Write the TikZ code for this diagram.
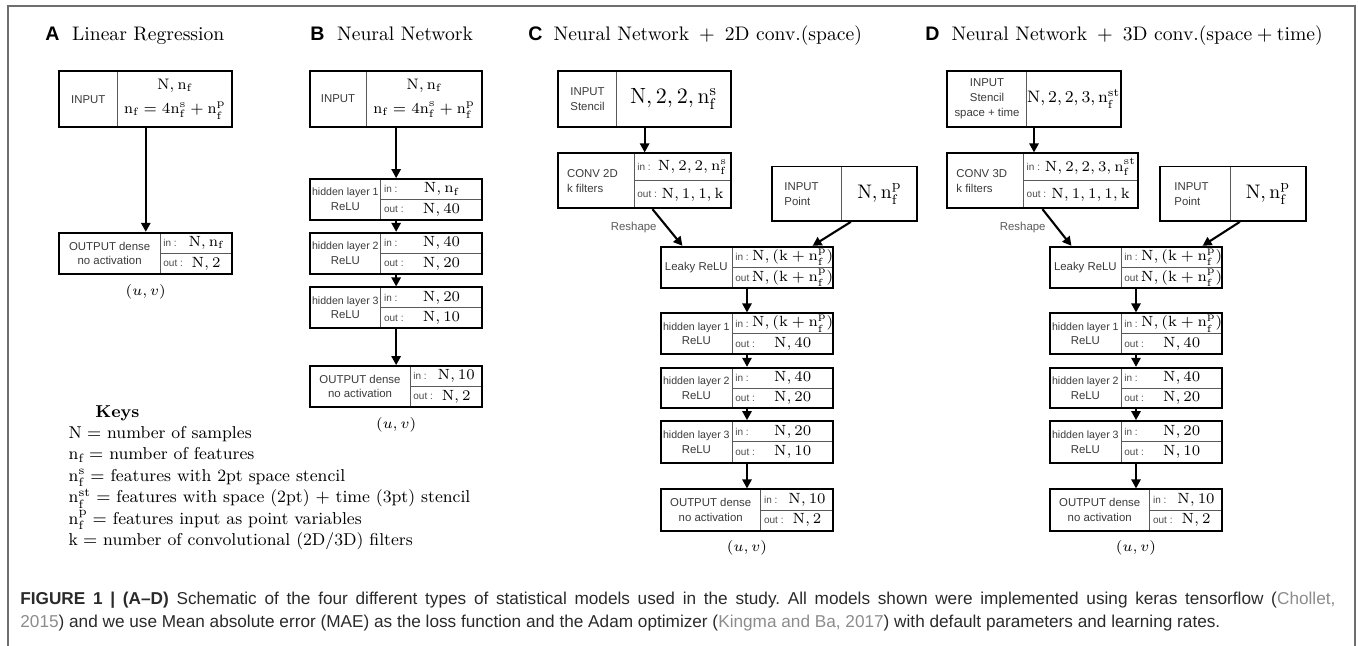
\documentclass[tikz,border=0pt]{standalone}
\usepackage{fix-cm}
\usepackage{fontspec}
\newfontfamily\arialf{Liberation Sans}
\usetikzlibrary{arrows.meta,calc}

\definecolor{labgray}{HTML}{3A3A3A}
\definecolor{iogray}{HTML}{4A4A4A}
\definecolor{rulegray}{HTML}{5A5A5A}
\definecolor{framegray}{HTML}{6E6E6E}
\definecolor{captext}{HTML}{2A2A2A}
\definecolor{citegray}{HTML}{8C8C8C}

% font switches
\newcommand\lblf{\arialf\fontsize{5.7}{7.4}\selectfont}
\newcommand\hlblf{\arialf\fontsize{5.3}{6.3}\selectfont}
\newcommand\iof{\arialf\fontsize{5}{6}\selectfont}
\newcommand\valf{\fontsize{7.4}{9}\selectfont}
\newcommand\bigvalf{\fontsize{9.8}{11}\selectfont}
\newcommand\hugevalf{\fontsize{11}{13}\selectfont}
\newcommand\midvalf{\fontsize{8.3}{10}\selectfont}
\newcommand\inpvalf{\fontsize{7.6}{10}\selectfont}
\newcommand\panelletter[1]{{\arialf\bfseries #1}}

% symbols
\newcommand\vN{\mathrm{N}}
\newcommand\vnf{\mathrm{n_f}}
\newcommand\vnfs{\mathrm{n^s_f}}
\newcommand\vnfp{\mathrm{n^p_f}}
\newcommand\vnfst{\mathrm{n^{st}_f}}

\tikzset{
  boxframe/.style={draw=black, line width=0.85pt, inner sep=0pt},
  divider/.style={draw=rulegray, line width=0.5pt},
  lbl/.style={font=\lblf, text=labgray, align=center, inner sep=0pt},
  iotag/.style={font=\iof, text=iogray, anchor=west, inner sep=0pt},
  val/.style={font=\valf, inner sep=0pt},
  arr/.style={-{Triangle[length=4.5pt,width=4.6pt]}, line width=1.05pt},
  ttl/.style={anchor=base west, inner sep=0pt, font=\fontsize{9.8}{12}\selectfont},
  keyline/.style={anchor=base west, inner sep=0pt, font=\fontsize{8.6}{10.5}\selectfont},
  uv/.style={inner sep=0pt, font=\fontsize{7.4}{9}\selectfont},
  note/.style={inner sep=0pt, font=\lblf, text=rulegray},
  capline/.style={anchor=base west, inner sep=0pt, text=captext, font=\arialf\fontsize{8.6}{10}\selectfont\frenchspacing},
}

% two-column input box: name, x1, y1, x2, y2, xdiv, label, value
\newcommand\inp[8]{%
  \draw[divider] (#6,#3) -- (#6,#5);
  \node[boxframe, minimum width={(#4-#2)*0.5pt}, minimum height={(#5-#3)*0.5pt}] (#1) at ({(#2+#4)/2},{(#3+#5)/2}) {};
  \node[lbl] (#1-l) at ({(#2+#6)/2},{(#3+#5)/2}) {#7};
  \node[inner sep=0pt, align=center] (#1-v) at ({(#6+#4)/2},{(#3+#5)/2}) {#8};
}

% layer box with in/out shapes: name, x1, y1, x2, y2, xdiv, label, in, out
\newcommand\lyr[9]{%
  \draw[divider] (#6,#3) -- (#6,#5);
  \draw[divider] (#6,{(#3+#5)/2}) -- (#4,{(#3+#5)/2});
  \node[boxframe, minimum width={(#4-#2)*0.5pt}, minimum height={(#5-#3)*0.5pt}] (#1) at ({(#2+#4)/2},{(#3+#5)/2}) {};
  \node[lbl] (#1-l) at ({(#2+#6)/2},{(#3+#5)/2}) {#7};
  \node[iotag] (#1-it) at ({#6+3},{(3*#3+#5)/4}) {in :};
  \node[iotag] (#1-ot) at ({#6+3},{(#3+3*#5)/4}) {out :};
  \node[val] (#1-iv) at ({(#6+20+#4)/2},{(3*#3+#5)/4}) {$#8$};
  \node[val] (#1-ov) at ({(#6+20+#4)/2},{(#3+3*#5)/4}) {$#9$};
}

\begin{document}
\begin{tikzpicture}[x=0.5pt,y=-0.5pt]
\useasboundingbox (0,0) rectangle (1358,646);
\draw[framegray, line width=0.75pt] (8,646) -- (8,6) -- (1355,6) -- (1355,646);

% ---------- A: linear regression ----------
\node[ttl] (tA) at (45,40.5) {\panelletter{A}\hspace{6.3pt}Linear Regression};
\inp{inA}{59.3}{71}{232.3}{127.3}{117.3}{INPUT}{\inpvalf $\vN,\vnf$\\ \inpvalf $\vnf=4\vnfs+\vnfp$}
\lyr{outA}{59.3}{232.7}{232.3}{274}{160}{OUTPUT dense\\no activation}{\vN,\vnf}{\vN,2}
\draw[arr] (inA.south) -- (outA.north);
\node[uv] (uvA) at (145.8,291.7) {$(u,v)$};

% ---------- B: dense network ----------
\node[ttl] (tB) at (310,40.5) {\panelletter{B}\hspace{6.3pt}Neural Network};
\inp{inB}{310}{71}{482.3}{126.7}{366}{INPUT}{\inpvalf $\vN,\vnf$\\ \inpvalf $\vnf=4\vnfs+\vnfp$}
\lyr{h1B}{310}{179}{482.3}{220}{380.7}{\hlblf hidden layer 1\\ReLU}{\vN,\vnf}{\vN,40}
\lyr{h2B}{310}{232.7}{482.3}{274}{380.7}{\hlblf hidden layer 2\\ReLU}{\vN,40}{\vN,20}
\lyr{h3B}{310}{287.3}{482.3}{328.3}{380.7}{\hlblf hidden layer 3\\ReLU}{\vN,20}{\vN,10}
\lyr{outB}{310}{366}{482.3}{406.7}{410}{OUTPUT dense\\no activation}{\vN,10}{\vN,2}
\draw[arr] (inB.south) -- (h1B.north);
\draw[arr] (h1B.south) -- (h2B.north);
\draw[arr] (h2B.south) -- (h3B.north);
\draw[arr] (h3B.south) -- (outB.north);
\node[uv] (uvB) at (396.2,425) {$(u,v)$};

% ---------- keys ----------
\node[keyline, font=\fontsize{8.6}{10.5}\selectfont\bfseries] (keyhead) at (95,417.5) {Keys};
\node[keyline] (key1) at (68.3,438) {$\vN=$ number of samples};
\node[keyline] (key2) at (68.3,459.5) {$\vnf=$ number of features};
\node[keyline] (key3) at (68.3,481) {$\vnfs=$ features with 2pt space stencil};
\node[keyline] (key4) at (68.3,502.5) {$\vnfst=$ features with space (2pt) $+$ time (3pt) stencil};
\node[keyline] (key5) at (68.3,524) {$\vnfp=$ features input as point variables};
\node[keyline] (key6) at (68.3,545.5) {$\mathrm{k}=$ number of convolutional (2D/3D) filters};

% ---------- C: network with 2D convolution ----------
\node[ttl] (tC) at (528,40.5) {\panelletter{C}\hspace{5.5pt}Neural Network\hspace{5pt}$+$\hspace{5pt}2D conv.(space)};
\inp{stC}{558.3}{71}{731}{126.7}{616}{}{\hugevalf $\vN,2,2,\vnfs$}
\node[lbl, anchor=west, align=left] (stC-t) at (570,98.8) {INPUT\\Stencil};
\lyr{cvC}{558.3}{153.3}{731}{208.3}{634}{}{\vN,2,2,\vnfs}{\vN,1,1,\mathrm{k}}
\node[lbl, anchor=west, align=left] (cvC-t) at (566.7,180.8) {CONV 2D\\k filters};
\inp{ptC}{771.7}{166.5}{917}{221}{841.7}{}{\bigvalf $\vN,\vnfp$}
\node[lbl, anchor=west, align=left] (ptC-t) at (784,193.8) {INPUT\\Point};
\lyr{lkC}{660.7}{246.7}{833.3}{288.3}{732}{Leaky ReLU}{\vN,(\mathrm{k}+\vnfp)}{\vN,(\mathrm{k}+\vnfp)}
\lyr{h1C}{660.7}{313.3}{833.3}{354.3}{732}{\hlblf hidden layer 1\\ReLU}{\vN,(\mathrm{k}+\vnfp)}{\vN,40}
\lyr{h2C}{660.7}{367.7}{833.3}{408.3}{732}{\hlblf hidden layer 2\\ReLU}{\vN,40}{\vN,20}
\lyr{h3C}{660.7}{421}{833.3}{462.7}{732}{\hlblf hidden layer 3\\ReLU}{\vN,20}{\vN,10}
\lyr{outC}{660.7}{489.3}{833.3}{530.7}{760.7}{OUTPUT dense\\no activation}{\vN,10}{\vN,2}
\draw[arr] (stC.south) -- (cvC.north);
\draw[arr] ($(cvC.south west)+(95,0)$) -- ($(lkC.north west)+(22.6,0)$);
\draw[arr] ($(ptC.south west)+(80,0)$) -- ($(lkC.north east)+(-21.6,0)$);
\node[note] (rsC) at (633.7,227.3) {Reshape};
\draw[arr] (lkC.south) -- (h1C.north);
\draw[arr] (h1C.south) -- (h2C.north);
\draw[arr] (h2C.south) -- (h3C.north);
\draw[arr] (h3C.south) -- (outC.north);
\node[uv] (uvC) at (747,547.3) {$(u,v)$};

% ---------- D: network with 3D convolution ----------
\node[ttl] (tD) at (925,40.5) {\panelletter{D}\hspace{6pt}Neural Network\hspace{5pt}$+$\hspace{5pt}3D conv.(space${}+{}$time)};
\inp{stD}{947.3}{71}{1120.7}{126.7}{1026.7}{INPUT\\Stencil\\space + time}{\midvalf $\vN,2,2,3,\vnfst$}
\lyr{cvD}{947.3}{153.3}{1137.7}{208.3}{1023.3}{}{\vN,2,2,3,\vnfst}{\vN,1,1,1,\mathrm{k}}
\node[lbl, anchor=west, align=left] (cvD-t) at (956,180.8) {CONV 3D\\k filters};
\inp{ptD}{1160}{166.5}{1305.7}{221}{1230}{}{\bigvalf $\vN,\vnfp$}
\node[lbl, anchor=west, align=left] (ptD-t) at (1174,193.8) {INPUT\\Point};
\lyr{lkD}{1049.7}{246.7}{1222.3}{288.3}{1121}{Leaky ReLU}{\vN,(\mathrm{k}+\vnfp)}{\vN,(\mathrm{k}+\vnfp)}
\lyr{h1D}{1049.7}{313.3}{1222.3}{354.3}{1121}{\hlblf hidden layer 1\\ReLU}{\vN,(\mathrm{k}+\vnfp)}{\vN,40}
\lyr{h2D}{1049.7}{367.7}{1222.3}{408.3}{1121}{\hlblf hidden layer 2\\ReLU}{\vN,40}{\vN,20}
\lyr{h3D}{1049.7}{421}{1222.3}{462.7}{1121}{\hlblf hidden layer 3\\ReLU}{\vN,20}{\vN,10}
\lyr{outD}{1049.7}{489.3}{1222.3}{530.7}{1149.7}{OUTPUT dense\\no activation}{\vN,10}{\vN,2}
\draw[arr] (stD.south) -- (stD.south |- cvD.north);
\draw[arr] ($(cvD.south west)+(96,0)$) -- ($(lkD.north west)+(22.6,0)$);
\draw[arr] ($(ptD.south west)+(80.7,0)$) -- ($(lkD.north east)+(-20.6,0)$);
\node[note] (rsD) at (1022.7,227.3) {Reshape};
\draw[arr] (lkD.south) -- (h1D.north);
\draw[arr] (h1D.south) -- (h2D.north);
\draw[arr] (h2D.south) -- (h3D.north);
\draw[arr] (h3D.south) -- (outD.north);
\node[uv] (uvD) at (1136,547.3) {$(u,v)$};

% ---------- caption ----------
\node[capline] (cap1) at (20,604) {\makebox[657.5pt][s]{\textbf{FIGURE 1 | (A\textendash D)} Schematic of the four different types of statistical models used in the study. All models shown were implemented using keras tensorflow (\textcolor{citegray}{Chollet,}}};
\node[capline] (cap2) at (20,627) {\textcolor{citegray}{2015}) and we use Mean absolute error (MAE) as the loss function and the Adam optimizer (\textcolor{citegray}{Kingma and Ba, 2017}) with default parameters and learning rates.};
\end{tikzpicture}
\end{document}
